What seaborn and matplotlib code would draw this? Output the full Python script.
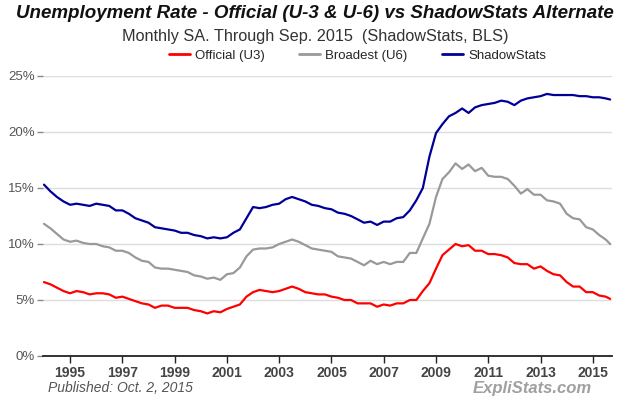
import matplotlib
matplotlib.use("Agg")
import matplotlib.pyplot as plt
import seaborn as sns
import pandas as pd

# Quarterly readings (Jan, Apr, Jul, Oct), 1994 .. Jul 2015, plus Sep 2015
u3 = [6.6, 6.4, 6.1, 5.8,
      5.6, 5.8, 5.7, 5.5,
      5.6, 5.6, 5.5, 5.2,
      5.3, 5.1, 4.9, 4.7,
      4.6, 4.3, 4.5, 4.5,
      4.3, 4.3, 4.3, 4.1,
      4.0, 3.8, 4.0, 3.9,
      4.2, 4.4, 4.6, 5.3,
      5.7, 5.9, 5.8, 5.7,
      5.8, 6.0, 6.2, 6.0,
      5.7, 5.6, 5.5, 5.5,
      5.3, 5.2, 5.0, 5.0,
      4.7, 4.7, 4.7, 4.4,
      4.6, 4.5, 4.7, 4.7,
      5.0, 5.0, 5.8, 6.5,
      7.8, 9.0, 9.5, 10.0,
      9.8, 9.9, 9.4, 9.4,
      9.1, 9.1, 9.0, 8.8,
      8.3, 8.2, 8.2, 7.8,
      8.0, 7.6, 7.3, 7.2,
      6.6, 6.2, 6.2, 5.7,
      5.7, 5.4, 5.3, 5.1]
u6 = [11.8, 11.4, 10.9, 10.4,
      10.2, 10.3, 10.1, 10.0,
      10.0, 9.8, 9.7, 9.4,
      9.4, 9.2, 8.8, 8.5,
      8.4, 7.9, 7.8, 7.8,
      7.7, 7.6, 7.5, 7.2,
      7.1, 6.9, 7.0, 6.8,
      7.3, 7.4, 7.9, 8.9,
      9.5, 9.6, 9.6, 9.7,
      10.0, 10.2, 10.4, 10.2,
      9.9, 9.6, 9.5, 9.4,
      9.3, 8.9, 8.8, 8.7,
      8.4, 8.1, 8.5, 8.2,
      8.4, 8.2, 8.4, 8.4,
      9.2, 9.2, 10.5, 11.8,
      14.2, 15.8, 16.4, 17.2,
      16.7, 17.1, 16.5, 16.8,
      16.1, 16.0, 16.0, 15.8,
      15.2, 14.5, 14.9, 14.4,
      14.4, 13.9, 13.8, 13.6,
      12.7, 12.3, 12.2, 11.5,
      11.3, 10.8, 10.4, 10.0]
shadow = [15.3, 14.7, 14.2, 13.8,
          13.5, 13.6, 13.5, 13.4,
          13.6, 13.5, 13.4, 13.0,
          13.0, 12.7, 12.3, 12.1,
          11.9, 11.5, 11.4, 11.3,
          11.2, 11.0, 11.0, 10.8,
          10.7, 10.5, 10.6, 10.5,
          10.6, 11.0, 11.3, 12.3,
          13.3, 13.2, 13.3, 13.5,
          13.6, 14.0, 14.2, 14.0,
          13.8, 13.5, 13.4, 13.2,
          13.1, 12.8, 12.7, 12.5,
          12.2, 11.9, 12.0, 11.7,
          12.0, 12.0, 12.3, 12.4,
          13.0, 13.9, 15.0, 17.8,
          19.9, 20.7, 21.4, 21.7,
          22.1, 21.7, 22.2, 22.4,
          22.5, 22.6, 22.8, 22.7,
          22.4, 22.8, 23.0, 23.1,
          23.2, 23.4, 23.3, 23.3,
          23.3, 23.3, 23.2, 23.2,
          23.1, 23.1, 23.0, 22.9]

dates = list(pd.date_range("1994-01-01", "2015-07-01", freq="QS")) + [pd.Timestamp("2015-09-01")]
series_names = ["Official (U3)", "Broadest (U6)", "ShadowStats"]
colors = ["#ff0000", "#999999", "#000099"]
year_ticks = list(range(1995, 2016, 2))
y_ticks = [0, 5, 10, 15, 20, 25]

df = pd.concat([
    pd.DataFrame({"date": dates, "rate": vals, "series": name})
    for name, vals in zip(series_names, [u3, u6, shadow])
])

sns.set_theme(style="white")
plt.rcParams["font.family"] = ["Liberation Sans", "DejaVu Sans"]

fig = plt.figure(figsize=(6.25, 4), dpi=100)
ax = fig.add_axes([0.069, 0.11, 0.91, 0.70])

sns.lineplot(data=df, x="date", y="rate", hue="series", hue_order=series_names,
             palette=colors, linewidth=1.6, ax=ax)

ax.set_ylim(0, 25)
ax.set_xlim(pd.Timestamp("1993-12-20"), pd.Timestamp("2015-09-25"))
ax.set_yticks(y_ticks)
ax.set_yticklabels([f"{v}%" for v in y_ticks], color="#555555", fontsize=9.5)
ax.set_xticks([pd.Timestamp(f"{y}-01-01") for y in year_ticks])
ax.set_xticklabels([str(y) for y in year_ticks], fontsize=10, fontweight="bold", color="#444444")
ax.yaxis.grid(True, color="#dddddd", linewidth=1)
ax.set_axisbelow(True)
for s in ["top", "right", "left"]:
    ax.spines[s].set_visible(False)
ax.spines["bottom"].set_color("#222222")
ax.spines["bottom"].set_linewidth(1.3)
ax.tick_params(axis="x", length=5, width=1, color="#222222", pad=2, bottom=True)
ax.tick_params(axis="y", length=4, width=1, color="#888888", pad=2, left=True)
ax.set_xlabel("")
ax.set_ylabel("")

handles, labels = ax.get_legend_handles_labels()
ax.legend(handles, labels, loc="center", bbox_to_anchor=(0.572, 0.86),
          bbox_transform=fig.transFigure, ncol=3, frameon=False, fontsize=9.5,
          handlelength=1.6, handletextpad=0.4, columnspacing=2.6)
for l in ax.get_legend().get_lines():
    l.set_linewidth(2)

fig.text(0.504, 0.965, "Unemployment Rate - Official (U-3 & U-6) vs ShadowStats Alternate",
         ha="center", va="center", fontsize=13.5, fontweight="bold", style="italic", color="#111111")
fig.text(0.504, 0.91, "Monthly SA. Through Sep. 2015  (ShadowStats, BLS)",
         ha="center", va="center", fontsize=11.7, color="#333333")
fig.text(0.077, 0.03, "Published: Oct. 2, 2015", ha="left", va="center",
         fontsize=10, style="italic", color="#555555")
fig.text(0.947, 0.03, "ExpliStats.com", ha="right", va="center",
         fontsize=12, style="italic", fontweight="bold", color="#a0a0a0")

fig.savefig("out.png", dpi=100)
